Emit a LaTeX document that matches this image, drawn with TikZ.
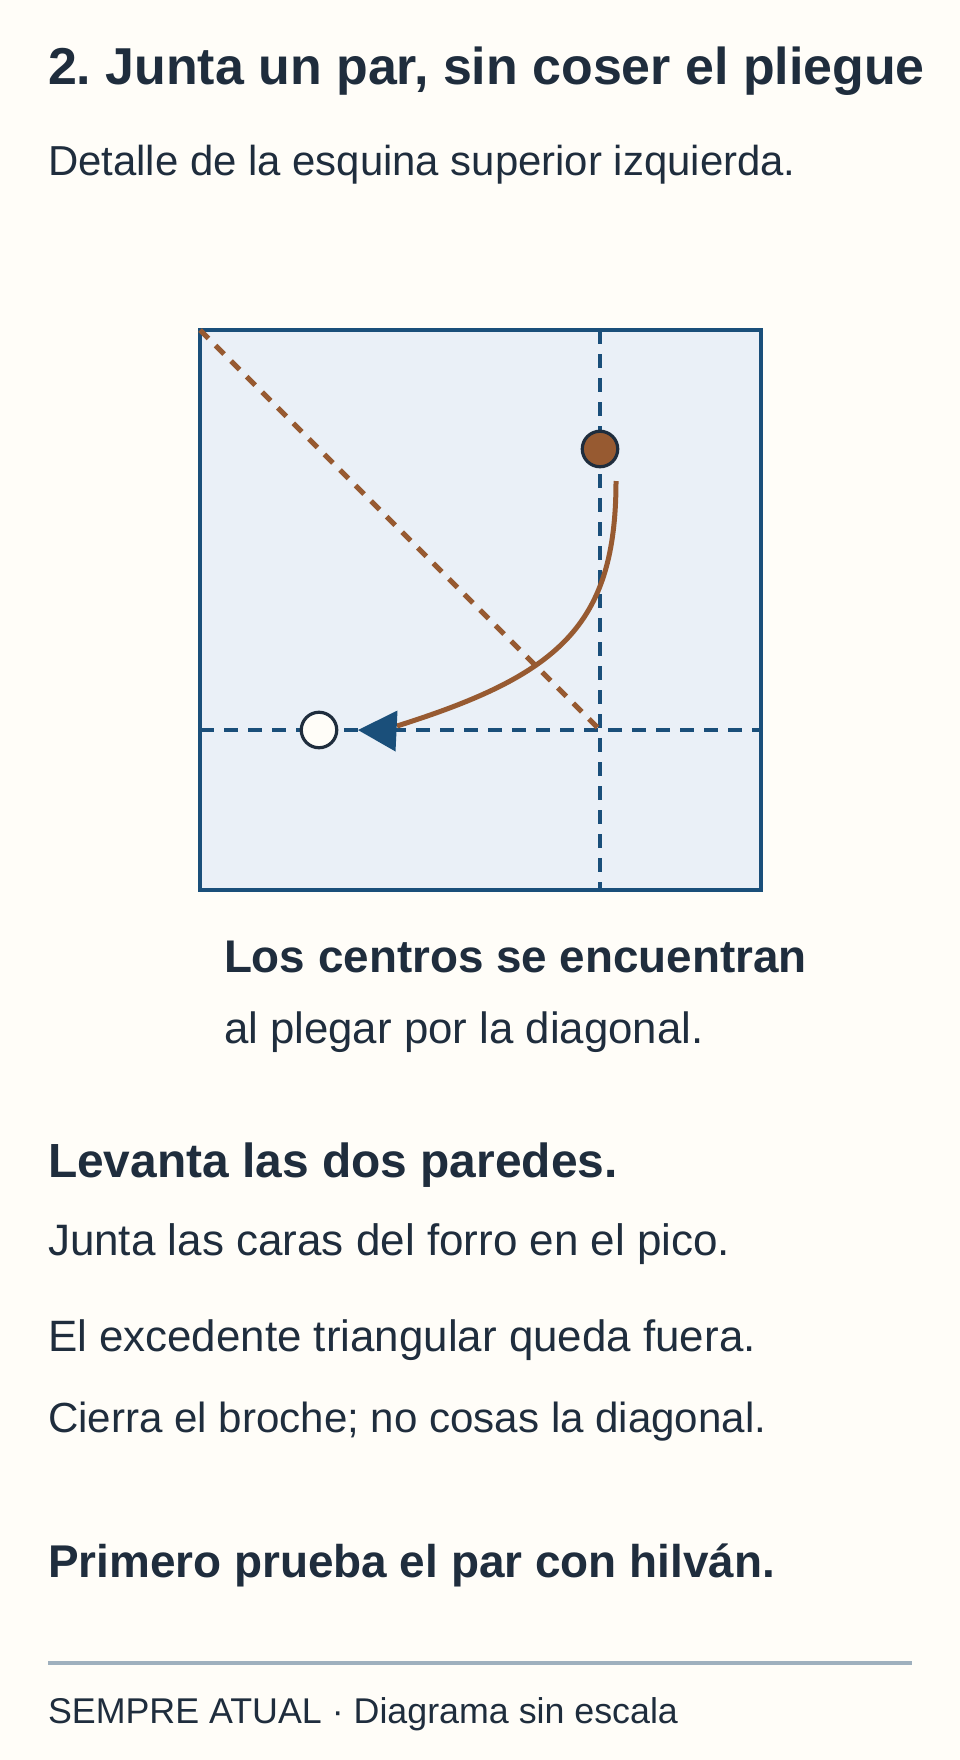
\documentclass[tikz,border=0pt]{standalone}
\usepackage{fontspec}
\setmainfont{Liberation Sans}
\definecolor{ink}{HTML}{1F2D3D}
\definecolor{bg}{HTML}{FFFDF8}
\definecolor{paper}{HTML}{EAF0F7}
\definecolor{navy}{HTML}{1A4F7A}
\definecolor{rust}{HTML}{975A31}
\definecolor{rulegrey}{HTML}{9FB0BE}
\newcommand\myfs[1]{\fontsize{#1}{#1}\selectfont}
\frenchspacing
\begin{document}
\begin{tikzpicture}[x=1pt,y=-1pt,
  txt/.style={anchor=base west, inner sep=0pt, outer sep=0pt, text=ink},
  sheet/.style={draw=navy, fill=paper, line width=4.8},
  foldline/.style={draw=navy, line width=4.8, dash pattern=on 14 off 10},
  diagline/.style={draw=rust, line width=5, dash pattern=on 12 off 10},
  dotmark/.style={circle, draw=ink, line width=3.2, minimum size=35.5, inner sep=0pt},
  move/.style={draw=rust, line width=5},
  tipfill/.style={fill=navy}]
\fill[bg] (0,0) rectangle (960,1760);
\useasboundingbox (0,0) rectangle (960,1760);

% headings
\node[txt, font={\myfs{51.9}\bfseries}] (title) at (48,85) {2. Junta un par, sin coser el pliegue};
\node[txt, font={\myfs{41.9}}] (sub) at (48,175.7) {Detalle de la esquina superior izquierda.};

% sheet
\draw[sheet] (200,330) rectangle (761,890);
\coordinate (vt) at (600,330);
\coordinate (vb) at (600,890);
\coordinate (hl) at (200,730);
\coordinate (hr) at (761,730);
\coordinate (corner) at (200,330);
\coordinate (cross) at (600,730);
\draw[foldline] (vt) -- (vb);
\draw[foldline] (hl) -- (hr);
\draw[diagline] (corner) -- (cross);

% markers
\node[dotmark, fill=rust] (src) at (600,449) {};
\node[dotmark, fill=bg] (dst) at (319,730) {};

% move arrow
\coordinate (cs) at (616,481);
\coordinate (ce) at (397,726);
\draw[move] (cs) .. controls (616,626) and (558.5,675) .. (ce);
\coordinate (tip) at (358,730);
\fill[tipfill] (tip) -- (397.5,710.5) -- (395.5,751.5) -- cycle;

% caption
\node[txt, font={\myfs{45.8}\bfseries}] (cap1) at (224,972) {Los centros se encuentran};
\node[txt, font={\myfs{43.8}}] (cap2) at (224,1043) {al plegar por la diagonal.};

% steps
\node[txt, font={\myfs{47.9}\bfseries}] (s0) at (48,1177) {Levanta las dos paredes.};
\node[txt, font={\myfs{44.0}}] (s1) at (48,1255) {Junta las caras del forro en el pico.};
\node[txt, font={\myfs{43.9}}] (s2) at (48,1351) {El excedente triangular queda fuera.};
\node[txt, font={\myfs{42.1}}] (s3) at (48,1432) {Cierra el broche; no cosas la diagonal.};
\node[txt, font={\myfs{45.9}\bfseries}] (tip2) at (48,1577) {Primero prueba el par con hilván.};

% footer
\coordinate (rl) at (48,1663);
\coordinate (rr) at (912,1663);
\draw[rulegrey, line width=4.4] (rl) -- (rr);
\node[txt, font={\myfs{35.8}}] (foot) at (48,1723) {SEMPRE ATUAL · Diagrama sin escala};
\end{tikzpicture}
\end{document}
